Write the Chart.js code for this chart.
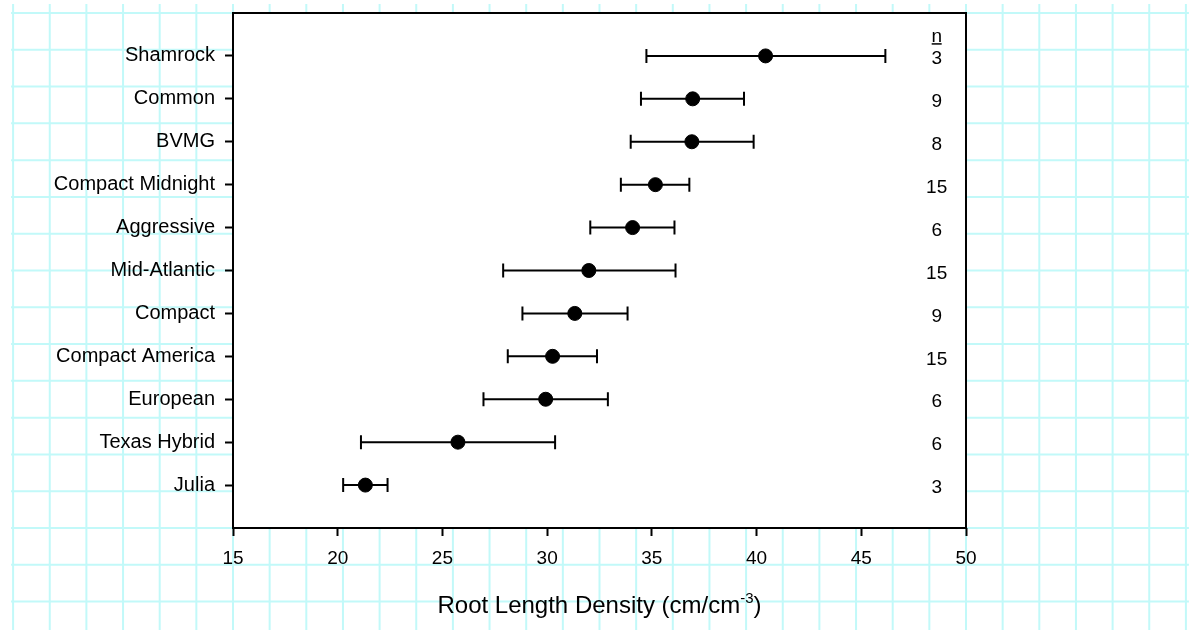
<!DOCTYPE html>
<html>
<head>
<meta charset="utf-8">
<script src="https://cdn.jsdelivr.net/npm/chart.js@4"></script>
<style>
  html, body { margin: 0; padding: 0; background: #fff; }
</style>
</head>
<body>
<canvas id="chart" width="1193" height="630"></canvas>
<script>
// cultivars, top to bottom
const cultivars = ["Shamrock", "Common", "BVMG", "Compact Midnight", "Aggressive", "Mid-Atlantic",
  "Compact", "Compact America", "European", "Texas Hybrid", "Julia"];
const meanRLD = [40.43, 36.95, 36.91, 35.17, 34.08, 31.99, 31.32, 30.26, 29.93, 25.74, 21.32];
const lowerRLD = [34.74, 34.48, 33.99, 33.52, 32.06, 27.90, 28.82, 28.12, 26.96, 21.11, 20.26];
const upperRLD = [46.15, 39.40, 39.86, 36.79, 36.08, 36.13, 33.84, 32.38, 32.90, 30.38, 22.38];
const sampleN = [3, 9, 8, 15, 6, 15, 9, 15, 6, 6, 3];
const xTicks = [15, 20, 25, 30, 35, 40, 45, 50];

// rows sit at 11 ... 1 on a 0-12 axis
const rowPos = cultivars.map((_, i) => cultivars.length - i);
const FONT = "'Liberation Sans', Arial, sans-serif";

const paperGrid = {
  id: "paperGrid",
  beforeDraw(chart) {
    const { ctx, chartArea: a, width, height } = chart;
    const sx = (a.right - a.left) / 20;
    const sy = (a.bottom - a.top) / 14;
    ctx.save();
    ctx.strokeStyle = "#c2f9f9";
    ctx.lineWidth = 2;
    ctx.beginPath();
    let lastX = 0;
    for (let x = a.left - 6 * sx; x < width - 2; x += sx) {
      ctx.moveTo(x, 4);
      ctx.lineTo(x, height);
      lastX = x;
    }
    for (let y = a.top; y < height; y += sy) {
      ctx.moveTo(a.left - 6 * sx - 2, y);
      ctx.lineTo(lastX + 3, y);
    }
    ctx.stroke();
    ctx.fillStyle = "#fff";
    ctx.fillRect(a.left, a.top, a.right - a.left, a.bottom - a.top);
    ctx.restore();
  }
};

const errorBars = {
  id: "errorBars",
  beforeDatasetsDraw(chart) {
    const { ctx, scales: { x, y } } = chart;
    ctx.save();
    ctx.strokeStyle = "#000";
    ctx.lineWidth = 2;
    cultivars.forEach((name, i) => {
      const py = y.getPixelForValue(rowPos[i]);
      const x0 = x.getPixelForValue(lowerRLD[i]);
      const x1 = x.getPixelForValue(upperRLD[i]);
      ctx.beginPath();
      ctx.moveTo(x0, py); ctx.lineTo(x1, py);
      ctx.moveTo(x0, py - 7); ctx.lineTo(x0, py + 7);
      ctx.moveTo(x1, py - 7); ctx.lineTo(x1, py + 7);
      ctx.stroke();
    });
    ctx.restore();
  }
};

const frameAndText = {
  id: "frameAndText",
  afterDraw(chart) {
    const { ctx, chartArea: a, scales: { x, y } } = chart;
    ctx.save();
    ctx.strokeStyle = "#000";
    ctx.lineWidth = 2;
    ctx.strokeRect(a.left, a.top, a.right - a.left, a.bottom - a.top);

    // n column
    const nx = x.getPixelForValue(48.6);
    ctx.fillStyle = "#000";
    ctx.font = "19px " + FONT;
    ctx.textAlign = "center";
    ctx.textBaseline = "middle";
    const hy = y.getPixelForValue(rowPos[0]) - 19;
    ctx.fillText("n", nx, hy);
    ctx.lineWidth = 1.5;
    ctx.beginPath();
    ctx.moveTo(nx - 5, hy + 7);
    ctx.lineTo(nx + 5, hy + 7);
    ctx.stroke();
    sampleN.forEach((n, i) => {
      ctx.fillText(String(n), nx, y.getPixelForValue(rowPos[i]) + 3);
    });

    // axis title with superscript
    const main = "Root Length Density (cm/cm";
    const sup = "-3";
    const tail = ")";
    const bigFont = "24px " + FONT;
    const supFont = "15px " + FONT;
    ctx.font = bigFont;
    const w1 = ctx.measureText(main).width;
    const w3 = ctx.measureText(tail).width;
    ctx.font = supFont;
    const w2 = ctx.measureText(sup).width;
    const total = w1 + w2 + w3;
    let tx = (a.left + a.right) / 2 - total / 2;
    const base = 613;
    ctx.textAlign = "left";
    ctx.textBaseline = "alphabetic";
    ctx.font = bigFont;
    ctx.fillText(main, tx, base);
    tx += w1;
    ctx.font = supFont;
    ctx.fillText(sup, tx, base - 10);
    tx += w2;
    ctx.font = bigFont;
    ctx.fillText(tail, tx, base);
    ctx.restore();
  }
};

new Chart(document.getElementById("chart"), {
  type: "scatter",
  data: {
    datasets: [{
      label: "Root length density",
      data: cultivars.map((name, i) => ({ x: meanRLD[i], y: rowPos[i] })),
      backgroundColor: "#000",
      borderColor: "#000",
      pointRadius: 7,
      pointHoverRadius: 7,
    }],
  },
  options: {
    responsive: false,
    animation: false,
    layout: { padding: { top: 13, right: 227, left: 0, bottom: 0 } },
    plugins: {
      legend: { display: false },
      tooltip: { enabled: false },
    },
    scales: {
      x: {
        type: "linear",
        min: 15,
        max: 50,
        afterBuildTicks(scale) {
          scale.ticks = xTicks.map((v) => ({ value: v }));
        },
        afterFit(scale) {
          scale.height = 102;
          scale.paddingLeft = 0;
          scale.paddingRight = 0;
        },
        border: { display: false },
        grid: {
          drawOnChartArea: false,
          drawTicks: true,
          tickLength: 8,
          tickColor: "#000",
          tickWidth: 2,
        },
        ticks: {
          color: "#000",
          padding: 11,
          font: { family: FONT, size: 19 },
        },
      },
      y: {
        type: "linear",
        min: 0,
        max: 12,
        afterBuildTicks(scale) {
          scale.ticks = rowPos.map((v) => ({ value: v }));
        },
        afterFit(scale) {
          scale.width = 233;
          scale.paddingTop = 0;
          scale.paddingBottom = 0;
        },
        border: { display: false },
        grid: {
          drawOnChartArea: false,
          drawTicks: true,
          tickLength: 8,
          tickColor: "#000",
          tickWidth: 2,
        },
        ticks: {
          color: "#000",
          padding: 10,
          font: { family: FONT, size: 20 },
          callback: (value) => cultivars[cultivars.length - value],
        },
      },
    },
  },
  plugins: [paperGrid, errorBars, frameAndText],
});
</script>
</body>
</html>
